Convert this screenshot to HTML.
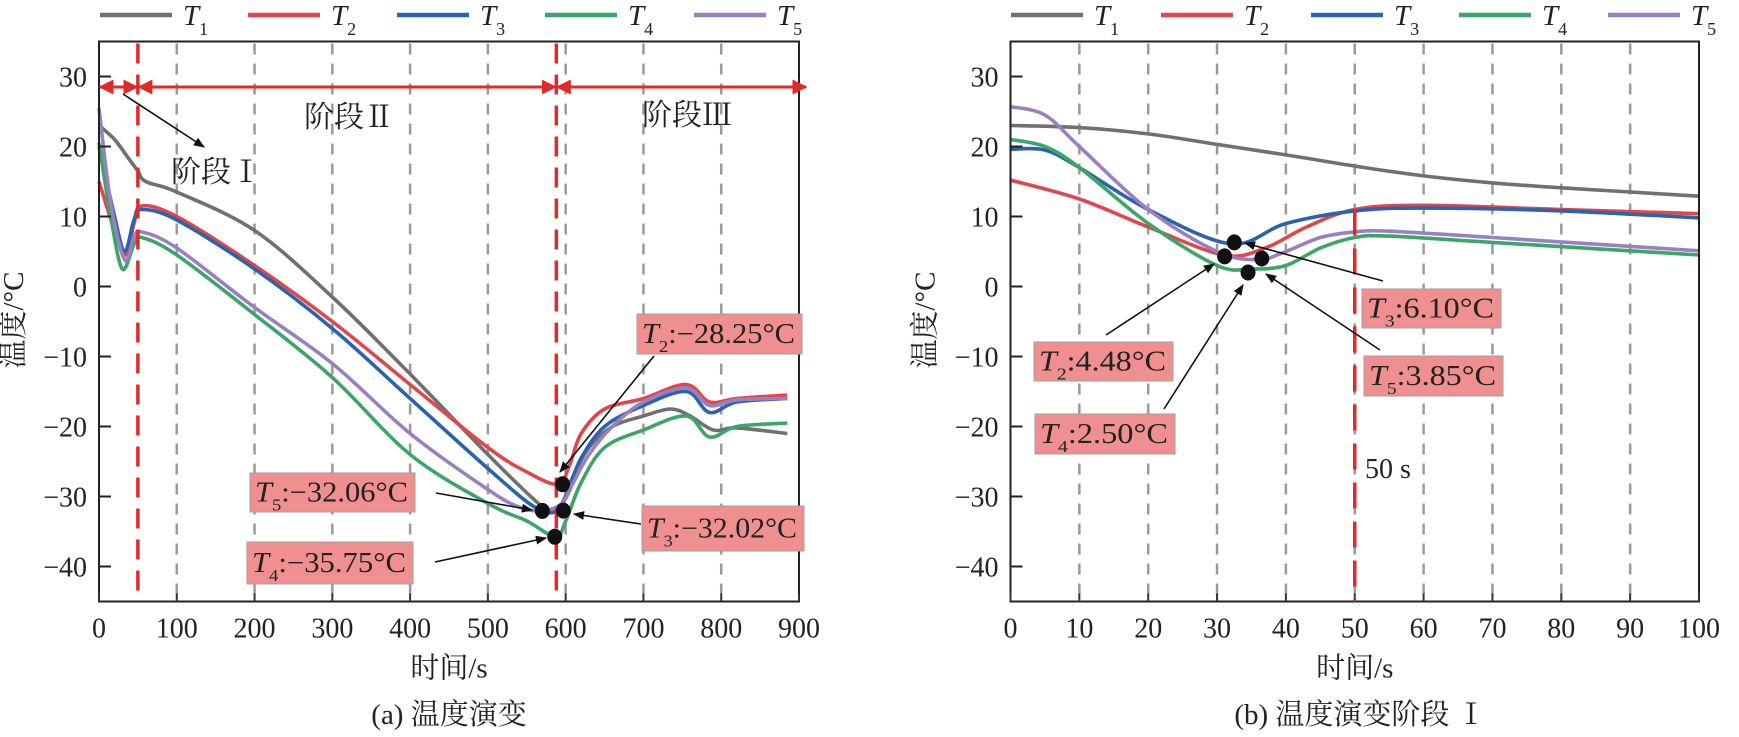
<!DOCTYPE html>
<html><head><meta charset="utf-8"><style>
html,body{margin:0;padding:0;background:#fff}
svg{display:block}
text{font-family:"Liberation Serif","Noto Serif CJK SC",serif;fill:#222}
</style></head><body>
<svg id="chart" width="1739" height="737" viewBox="0 0 1739 737" xmlns="http://www.w3.org/2000/svg">
<defs>
<marker id="ah" viewBox="0 0 10 10" refX="9" refY="5" markerWidth="7" markerHeight="7" orient="auto"><path d="M0,1 L10,5 L0,9 z" fill="#111"/></marker>
<marker id="rh" viewBox="0 0 10 10" refX="9" refY="5" markerWidth="5" markerHeight="5" orient="auto"><path d="M0,0 L10,5 L0,10 z" fill="#e02a2a"/></marker>
<marker id="rhs" viewBox="0 0 10 10" refX="1" refY="5" markerWidth="5" markerHeight="5" orient="auto"><path d="M10,0 L0,5 L10,10 z" fill="#e02a2a"/></marker>
</defs>
<g id="root"></g>
</svg>
<script>
// ---------- data: panel (a) ----------
const seriesNames = ["T1","T2","T3","T4","T5"];
const seriesColors = ["#707070","#e0474c","#2b63ad","#3ca56b","#9b80bf"];
const aT1x = [0,20,40,50,60,100,200,300,400,500,560,580,595,610,630,660,700,735,760,790,820,885];
const aT1y = [23,21,18,16.5,15,13.5,8,-1.5,-12.5,-24,-30.5,-32,-31,-27,-23,-20,-18.5,-17.5,-18.5,-20.5,-20.2,-21];
const aT2x = [0,20,35,45,55,100,200,300,400,500,550,590,605,620,650,700,755,785,820,885];
const aT2y = [15,8,4.5,9,11.5,10,3,-5,-14,-23,-26.5,-28.25,-25.5,-21,-17.5,-16,-14,-16.5,-16,-15.5];
const aT3x = [0,20,33,45,55,100,200,300,400,500,560,590,605,620,650,700,755,785,820,885];
const aT3y = [20,10,5,9.5,11,9.5,2.5,-6,-16,-26,-31.5,-32.02,-28.5,-24.5,-20,-17,-15,-18,-16.5,-16];
const aT4x = [0,15,30,45,55,100,200,300,400,500,550,587,600,620,650,700,755,785,820,885];
const aT4y = [20.5,10,2.5,6,7,4.5,-4,-13,-24,-31,-33.5,-35.75,-33.5,-28,-23,-20.5,-18.5,-21.5,-20,-19.5];
const aT5x = [0,15,33,45,55,100,200,300,400,500,540,570,595,610,630,660,700,755,785,820,885];
const aT5y = [25.5,12,3.8,7,7.8,5.5,-3,-11,-21,-29,-31.5,-32.06,-31,-28,-24,-20,-16.5,-14.5,-17,-16.2,-16];
const aXTicks = [0,100,200,300,400,500,600,700,800,900];
const aYTicks = [30,20,10,0,-10,-20,-30,-40];
const aStageLines = [50,588];
// ---------- data: panel (b) ----------
const bT1x = [0,10,20,30,40,50,60,70,80,90,100];
const bT1y = [23,22.7,21.8,20.3,18.8,17.2,15.8,14.8,14.1,13.5,12.9];
const bT2x = [0,10,20,31,37,43,50,60,80,100];
const bT2y = [15.2,12.5,8.5,4.48,5.5,8.5,11,11.6,11,10.4];
const bT3x = [0,5,10,20,32,40,50,60,80,100];
const bT3y = [19.6,19.5,17,11,6.1,9,10.8,11.2,10.8,9.8];
const bT4x = [0,5,10,20,30,35,40,45,50,55,70,100];
const bT4y = [21,20,17,9,3,2.5,3,5.5,7,7.2,6.3,4.5];
const bT5x = [0,5,10,20,30,36,40,45,50,55,70,100];
const bT5y = [25.7,24.5,20,11,5,3.85,5,7,7.8,7.9,7,5.1];
const bXTicks = [0,10,20,30,40,50,60,70,80,90,100];
const bYTicks = [30,20,10,0,-10,-20,-30,-40];

const NS="http://www.w3.org/2000/svg";
const root=document.getElementById('root');
function mk(tag,attrs,parent){const e=document.createElementNS(NS,tag);for(const k in attrs)e.setAttribute(k,attrs[k]);(parent||root).appendChild(e);return e;}
function crPath(pts){let d="M"+pts[0][0].toFixed(1)+","+pts[0][1].toFixed(1);
 for(let i=0;i<pts.length-1;i++){const p0=pts[Math.max(0,i-1)],p1=pts[i],p2=pts[i+1],p3=pts[Math.min(pts.length-1,i+2)];
  const c1x=p1[0]+(p2[0]-p0[0])/6,c1y=p1[1]+(p2[1]-p0[1])/6,c2x=p2[0]-(p3[0]-p1[0])/6,c2y=p2[1]-(p3[1]-p1[1])/6;
  d+=" C"+c1x.toFixed(1)+","+c1y.toFixed(1)+" "+c2x.toFixed(1)+","+c2y.toFixed(1)+" "+p2[0].toFixed(1)+","+p2[1].toFixed(1);}
 return d;}

function panel(cfg){
 const g=mk('g',{});  
 const X=v=>cfg.x0+(v-cfg.xmin)/(cfg.xmax-cfg.xmin)*(cfg.x1-cfg.x0);
 const Y=v=>cfg.y1-(v-(-45))/80*(cfg.y1-cfg.y0);
 cfg.X=X;cfg.Y=Y;
 cfg.grid.forEach(v=>{const l=mk('line',{x1:X(v),x2:X(v),y1:cfg.y0+2,y2:cfg.y1,stroke:'#9a9a9a','stroke-width':2.5,'stroke-dasharray':'11 9'},g);
   });
 cfg.series.forEach((s,i)=>{const pts=s[0].map((xv,j)=>[X(xv),Y(s[1][j])]);
  const p=mk('path',{d:crPath(pts),fill:'none',stroke:seriesColors[i],'stroke-width':3.6,'stroke-linejoin':'round'},g);
   });
 const f=mk('rect',{x:cfg.x0,y:cfg.y0,width:cfg.x1-cfg.x0,height:cfg.y1-cfg.y0,fill:'none',stroke:'#222','stroke-width':2},g);
  
 cfg.xticks.forEach(v=>{mk('line',{x1:X(v),x2:X(v),y1:cfg.y1,y2:cfg.y1-8,stroke:'#333','stroke-width':2},g);
  const t=mk('text',{x:X(v),y:cfg.y1+36,'font-size':28,'text-anchor':'middle'},g);t.textContent=v;
   });
 cfg.yticks.forEach(v=>{mk('line',{x1:cfg.x0,x2:cfg.x0+12,y1:Y(v),y2:Y(v),stroke:'#222','stroke-width':2},g);
  const t=mk('text',{x:cfg.x0-12,y:Y(v)+10,'font-size':28,'text-anchor':'end'},g);t.textContent=(v<0?'\u2212'+(-v):v);
   });
 const xt=mk('text',{x:(cfg.x0+cfg.x1)/2,y:cfg.y1+76,'font-size':29,'text-anchor':'middle'},g);xt.textContent='时间/s';
  
 const yt=mk('text',{x:0,y:0,'font-size':29,'text-anchor':'middle',transform:`translate(${cfg.x0-76},320) rotate(-90)`},g);yt.textContent='温度/°C';
  
 const cp=mk('text',{x:cfg.capx,y:724,'font-size':29,'text-anchor':'middle'},g);cp.textContent=cfg.caption;
  
 cfg.legend.forEach((lx,i)=>{const lg=mk('g',{},g);  
  mk('line',{x1:lx,x2:lx+72,y1:15,y2:15,stroke:seriesColors[i],'stroke-width':4.5},lg);
  const t=mk('text',{x:lx+83,y:25,'font-size':29},lg);
  const a=mk('tspan',{'font-style':'italic'},t);a.textContent='T';
  const b=mk('tspan',{'font-size':18,dy:10},t);b.textContent=String(i+1);});
 return g;}

function label(g,bx,by,bw,bh,sub,val,name){
 const lg=mk('g',{},g);  
 mk('rect',{x:bx,y:by,width:bw,height:bh,fill:'#f08f8f',stroke:'#a0a0a0','stroke-width':1},lg);
 const t=mk('text',{x:bx+5,y:by+bh/2+9,'font-size':28,textLength:bw-12,lengthAdjust:'spacingAndGlyphs'},lg);
 const a=mk('tspan',{'font-style':'italic'},t);a.textContent='T';
 const b=mk('tspan',{'font-size':17,dy:9},t);b.textContent=sub;
 const c=mk('tspan',{dy:-9},t);c.textContent=val;}
function arrow(g,x1,y1,x2,y2){const l=mk('line',{x1,y1,x2,y2,stroke:'#111','stroke-width':1.6,'marker-end':'url(#ah)'},g);
  }
function dot(g,x,y){const c=mk('ellipse',{cx:x,cy:y,rx:7.5,ry:8,fill:'#111'},g);}

// ---------- panel a ----------
const A={name:'panel-a',x0:99,x1:799,y0:41.5,y1:601.5,xmin:0,xmax:900,grid:[100,200,300,400,500,600,700,800],
 series:[[aT1x,aT1y],[aT2x,aT2y],[aT3x,aT3y],[aT4x,aT4y],[aT5x,aT5y]],xticks:aXTicks,yticks:aYTicks,
 caption:'(a) 温度演变',capx:449,legend:[100,248,397,545,694]};
const ga=panel(A);
aStageLines.forEach(v=>{const l=mk('line',{x1:A.X(v),x2:A.X(v),y1:A.y0+2,y2:A.y1,stroke:'#e02a2a','stroke-width':3.5,'stroke-dasharray':'20 11'},ga);
  });
const ay=A.Y(28.5);
[[0,50],[50,588],[588,900]].forEach(r=>{const x1=A.X(r[0]),x2=A.X(r[1])+(r[1]==900?8:0);
 const l=mk('line',{x1:x1+1,y1:ay,x2:x2-1,y2:ay,stroke:'#e02a2a','stroke-width':3,'marker-end':'url(#rh)','marker-start':'url(#rhs)'},ga);
  });
[['阶段\u2161',349,127],['阶段\u2162',687,125],['阶段\u2160',216,182]].forEach(s=>{const t=mk('text',{x:s[1],y:s[2],'font-size':30,'text-anchor':'middle'},ga);t.textContent=s[0];
  });
arrow(ga,123,94,204,147);
label(ga,637,314,165,40,'2',':\u221228.25°C','label-t2-min');
label(ga,250,473,165,39,'5',':\u221232.06°C','label-t5-min');
label(ga,247,542,166,42,'4',':\u221235.75°C','label-t4-min');
label(ga,642,506,162,45,'3',':\u221232.02°C','label-t3-min');
arrow(ga,654,356,560,472);arrow(ga,436,493,532,510);arrow(ga,641,524,574,514);arrow(ga,435,562,546,538);
dot(ga,A.X(596),A.Y(-28.25));dot(ga,A.X(570),A.Y(-32.06));dot(ga,A.X(597),A.Y(-32.02));dot(ga,A.X(586),A.Y(-35.75));

// ---------- panel b ----------
const B={name:'panel-b',x0:1010.5,x1:1699,y0:41.5,y1:601.5,xmin:0,xmax:100,grid:[10,20,30,40,50,60,70,80,90],
 series:[[bT1x,bT1y],[bT2x,bT2y],[bT3x,bT3y],[bT4x,bT4y],[bT5x,bT5y]],xticks:bXTicks,yticks:bYTicks,
 caption:'(b) 温度演变阶段 \u2160',capx:1360,legend:[1011,1161,1311,1459,1608]};
const gb=panel(B);
const rl=mk('line',{x1:B.X(50),x2:B.X(50),y1:B.Y(11),y2:B.y1,stroke:'#e02a2a','stroke-width':3.5,'stroke-dasharray':'26 13'},gb);
 
const ft=mk('text',{x:1365,y:478,'font-size':28},gb);ft.textContent='50 s';
 
label(gb,1362,289,139,39,'3',':6.10°C','label-t3-min');
label(gb,1364,356,139,40,'5',':3.85°C','label-t5-min');
label(gb,1034,342,139,39,'2',':4.48°C','label-t2-min');
label(gb,1035,414,140,40,'4',':2.50°C','label-t4-min');
arrow(gb,1383,281,1245,243);arrow(gb,1380,350,1266,274);arrow(gb,1106,335,1214,264);arrow(gb,1164,409,1243,285);
dot(gb,B.X(32.5),B.Y(6.3));dot(gb,B.X(31.1),B.Y(4.3));dot(gb,B.X(36.5),B.Y(4.0));dot(gb,B.X(34.5),B.Y(2.0));
</script>
</body></html>
